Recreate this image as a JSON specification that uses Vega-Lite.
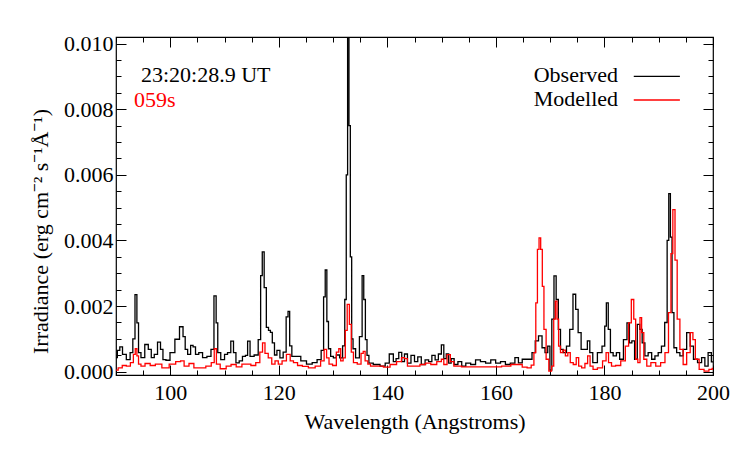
{
  "$schema": "https://vega.github.io/schema/vega-lite/v6.json",
  "width": 597,
  "height": 338,
  "autosize": "none",
  "padding": {"left": 116, "top": 37, "right": 34, "bottom": 74},
  "background": "white",
  "config": {
    "view": {"stroke": "black", "strokeWidth": 1.2},
    "font": "Times New Roman, Tinos, Liberation Serif, Noto Serif, DejaVu Serif, FreeSerif, serif",
    "text": {"font": "Times New Roman, Tinos, Liberation Serif, Noto Serif, DejaVu Serif, FreeSerif, serif"},
    "axis": {
      "domain": false, "grid": false, "tickColor": "black", "tickWidth": 1,
      "labelColor": "black", "labelFont": "Times New Roman, Tinos, Liberation Serif, Noto Serif, DejaVu Serif, FreeSerif, serif", "labelFontSize": 22,
      "titleFont": "Times New Roman, Tinos, Liberation Serif, Noto Serif, DejaVu Serif, FreeSerif, serif", "titleFontSize": 22, "titleFontWeight": "normal", "titleColor": "black",
      "labelFlush": false, "labelOverlap": false
    }
  },
  "datasets": {
    "obs": [
      {"w": 90.0, "v": 0.00043}, {"w": 90.5, "v": 0.00065}, {"w": 90.9, "v": 0.00076}, {"w": 91.5, "v": 0.00053},
      {"w": 92.3, "v": 0.00037}, {"w": 92.9, "v": 0.00058}, {"w": 93.3, "v": 0.00100}, {"w": 93.7, "v": 0.00235},
      {"w": 94.0, "v": 0.00149}, {"w": 94.3, "v": 0.00058}, {"w": 94.9, "v": 0.00043}, {"w": 95.7, "v": 0.00083},
      {"w": 96.2, "v": 0.00068}, {"w": 96.8, "v": 0.00043}, {"w": 97.3, "v": 0.00053}, {"w": 98.0, "v": 0.00090},
      {"w": 98.4, "v": 0.00068}, {"w": 98.9, "v": 0.00037}, {"w": 99.5, "v": 0.00035}, {"w": 100.4, "v": 0.00058},
      {"w": 101.3, "v": 0.00099}, {"w": 102.1, "v": 0.00137}, {"w": 102.6, "v": 0.00107}, {"w": 102.9, "v": 0.00068},
      {"w": 103.5, "v": 0.00053}, {"w": 104.0, "v": 0.00080}, {"w": 104.4, "v": 0.00076}, {"w": 104.9, "v": 0.00053},
      {"w": 105.6, "v": 0.00058}, {"w": 106.3, "v": 0.00043}, {"w": 107.2, "v": 0.00047}, {"w": 107.8, "v": 0.00068},
      {"w": 108.3, "v": 0.00231}, {"w": 108.6, "v": 0.00149}, {"w": 108.9, "v": 0.00058}, {"w": 109.7, "v": 0.00037},
      {"w": 110.3, "v": 0.00053}, {"w": 110.8, "v": 0.00058}, {"w": 111.5, "v": 0.00093}, {"w": 111.8, "v": 0.00058},
      {"w": 112.4, "v": 0.00027}, {"w": 113.0, "v": 0.00033}, {"w": 113.6, "v": 0.00047}, {"w": 114.1, "v": 0.00050},
      {"w": 114.4, "v": 0.00093}, {"w": 115.0, "v": 0.00047}, {"w": 115.9, "v": 0.00051}, {"w": 116.5, "v": 0.00098},
      {"w": 116.8, "v": 0.00293}, {"w": 117.1, "v": 0.00365}, {"w": 117.5, "v": 0.00256}, {"w": 117.9, "v": 0.00135},
      {"w": 118.3, "v": 0.00126}, {"w": 118.6, "v": 0.00120}, {"w": 119.0, "v": 0.00088}, {"w": 119.4, "v": 0.00051},
      {"w": 119.9, "v": 0.00065}, {"w": 120.5, "v": 0.00042}, {"w": 121.1, "v": 0.00060}, {"w": 121.6, "v": 0.00167},
      {"w": 121.8, "v": 0.00184}, {"w": 122.2, "v": 0.00079}, {"w": 122.6, "v": 0.00047}, {"w": 123.6, "v": 0.00047},
      {"w": 124.5, "v": 0.00033}, {"w": 125.7, "v": 0.00023}, {"w": 126.6, "v": 0.00028}, {"w": 127.5, "v": 0.00037},
      {"w": 128.1, "v": 0.00065}, {"w": 128.4, "v": 0.00228}, {"w": 128.7, "v": 0.00310}, {"w": 129.0, "v": 0.00153},
      {"w": 129.3, "v": 0.00070}, {"w": 129.8, "v": 0.00047}, {"w": 130.3, "v": 0.00042}, {"w": 130.9, "v": 0.00051},
      {"w": 131.5, "v": 0.00042}, {"w": 132.0, "v": 0.00079}, {"w": 132.3, "v": 0.00220}, {"w": 132.55, "v": 0.00600},
      {"w": 132.8, "v": 0.01040}, {"w": 133.05, "v": 0.00750}, {"w": 133.3, "v": 0.00350}, {"w": 133.55, "v": 0.00100},
      {"w": 133.8, "v": 0.00070}, {"w": 134.5, "v": 0.00042}, {"w": 135.2, "v": 0.00107}, {"w": 135.5, "v": 0.00293},
      {"w": 135.8, "v": 0.00220}, {"w": 136.1, "v": 0.00098}, {"w": 136.4, "v": 0.00050}, {"w": 136.8, "v": 0.00026},
      {"w": 138.0, "v": 0.00022}, {"w": 139.3, "v": 0.00017}, {"w": 139.9, "v": 0.00026}, {"w": 140.8, "v": 0.00054},
      {"w": 141.4, "v": 0.00031}, {"w": 141.8, "v": 0.00040}, {"w": 142.4, "v": 0.00059}, {"w": 142.9, "v": 0.00031},
      {"w": 143.4, "v": 0.00054}, {"w": 144.0, "v": 0.00026}, {"w": 144.7, "v": 0.00050}, {"w": 145.3, "v": 0.00031},
      {"w": 145.9, "v": 0.00045}, {"w": 146.6, "v": 0.00022}, {"w": 147.3, "v": 0.00036}, {"w": 147.9, "v": 0.00031},
      {"w": 148.5, "v": 0.00050}, {"w": 149.1, "v": 0.00036}, {"w": 149.7, "v": 0.00054}, {"w": 150.2, "v": 0.00082},
      {"w": 150.6, "v": 0.00040}, {"w": 151.1, "v": 0.00054}, {"w": 151.5, "v": 0.00026}, {"w": 152.0, "v": 0.00040},
      {"w": 152.6, "v": 0.00022}, {"w": 153.4, "v": 0.00031}, {"w": 154.0, "v": 0.00017}, {"w": 154.9, "v": 0.00026},
      {"w": 155.8, "v": 0.00022}, {"w": 156.7, "v": 0.00036}, {"w": 157.6, "v": 0.00031}, {"w": 158.6, "v": 0.00026},
      {"w": 159.5, "v": 0.00036}, {"w": 160.4, "v": 0.00026}, {"w": 161.3, "v": 0.00031}, {"w": 162.2, "v": 0.00022},
      {"w": 163.1, "v": 0.00026}, {"w": 163.9, "v": 0.00043}, {"w": 164.4, "v": 0.00027}, {"w": 165.3, "v": 0.00038},
      {"w": 166.3, "v": 0.00038}, {"w": 167.0, "v": 0.00058}, {"w": 167.5, "v": 0.00094}, {"w": 168.2, "v": 0.00109},
      {"w": 168.8, "v": 0.00073}, {"w": 169.3, "v": 0.00058}, {"w": 169.8, "v": 0.00078}, {"w": 170.1, "v": 0.00005},
      {"w": 170.5, "v": 0.00160}, {"w": 170.9, "v": 0.00292}, {"w": 171.3, "v": 0.00220}, {"w": 171.7, "v": 0.00129},
      {"w": 172.1, "v": 0.00068}, {"w": 172.7, "v": 0.00058}, {"w": 173.3, "v": 0.00078}, {"w": 173.9, "v": 0.00129},
      {"w": 174.5, "v": 0.00236}, {"w": 174.9, "v": 0.00190}, {"w": 175.4, "v": 0.00119}, {"w": 176.0, "v": 0.00068},
      {"w": 176.6, "v": 0.00068}, {"w": 177.1, "v": 0.00094}, {"w": 177.5, "v": 0.00058}, {"w": 178.2, "v": 0.00028},
      {"w": 179.2, "v": 0.00058}, {"w": 179.9, "v": 0.00078}, {"w": 180.2, "v": 0.00139}, {"w": 180.5, "v": 0.00210},
      {"w": 180.9, "v": 0.00129}, {"w": 181.3, "v": 0.00058}, {"w": 181.9, "v": 0.00048}, {"w": 182.5, "v": 0.00058},
      {"w": 183.1, "v": 0.00038}, {"w": 183.9, "v": 0.00098}, {"w": 184.4, "v": 0.00149}, {"w": 184.8, "v": 0.00088},
      {"w": 185.3, "v": 0.00094}, {"w": 185.8, "v": 0.00038}, {"w": 186.3, "v": 0.00144}, {"w": 186.7, "v": 0.00129},
      {"w": 187.2, "v": 0.00088}, {"w": 187.7, "v": 0.00048}, {"w": 188.4, "v": 0.00058}, {"w": 189.0, "v": 0.00038},
      {"w": 189.6, "v": 0.00048}, {"w": 190.2, "v": 0.00058}, {"w": 190.8, "v": 0.00078}, {"w": 191.4, "v": 0.00150},
      {"w": 191.7, "v": 0.00400}, {"w": 192.0, "v": 0.00543}, {"w": 192.3, "v": 0.00410}, {"w": 192.6, "v": 0.00180},
      {"w": 193.0, "v": 0.00073}, {"w": 193.6, "v": 0.00058}, {"w": 194.2, "v": 0.00048}, {"w": 194.8, "v": 0.00068},
      {"w": 195.5, "v": 0.00119}, {"w": 196.1, "v": 0.00078}, {"w": 196.7, "v": 0.00038}, {"w": 197.6, "v": 0.00028},
      {"w": 198.2, "v": 0.00043}, {"w": 198.8, "v": 0.00017}, {"w": 199.4, "v": 0.00058}, {"w": 200.0, "v": 0.00030}
    ],
    "mod": [
      {"w": 90.0, "v": 0.00005}, {"w": 90.8, "v": 0.00012}, {"w": 91.5, "v": 0.00019}, {"w": 92.3, "v": 0.00017},
      {"w": 93.0, "v": 0.00028}, {"w": 93.4, "v": 0.00053}, {"w": 93.7, "v": 0.00070}, {"w": 94.0, "v": 0.00048},
      {"w": 94.3, "v": 0.00023}, {"w": 94.9, "v": 0.00017}, {"w": 95.8, "v": 0.00025}, {"w": 96.8, "v": 0.00019},
      {"w": 97.7, "v": 0.00023}, {"w": 99.2, "v": 0.00012}, {"w": 100.4, "v": 0.00023}, {"w": 101.6, "v": 0.00031},
      {"w": 102.2, "v": 0.00033}, {"w": 102.9, "v": 0.00017}, {"w": 104.0, "v": 0.00025}, {"w": 104.7, "v": 0.00012},
      {"w": 105.9, "v": 0.00012}, {"w": 107.2, "v": 0.00017}, {"w": 107.9, "v": 0.00028}, {"w": 108.3, "v": 0.00070},
      {"w": 108.7, "v": 0.00023}, {"w": 109.7, "v": 0.00009}, {"w": 110.9, "v": 0.00017}, {"w": 111.5, "v": 0.00022},
      {"w": 112.8, "v": 0.00015}, {"w": 113.6, "v": 0.00023}, {"w": 114.4, "v": 0.00023}, {"w": 115.3, "v": 0.00019},
      {"w": 116.2, "v": 0.00028}, {"w": 116.8, "v": 0.00060}, {"w": 117.2, "v": 0.00088}, {"w": 117.7, "v": 0.00056},
      {"w": 118.4, "v": 0.00042}, {"w": 119.0, "v": 0.00023}, {"w": 119.6, "v": 0.00033}, {"w": 120.2, "v": 0.00023},
      {"w": 121.0, "v": 0.00033}, {"w": 121.8, "v": 0.00053}, {"w": 122.4, "v": 0.00033}, {"w": 123.0, "v": 0.00028},
      {"w": 123.9, "v": 0.00019}, {"w": 124.8, "v": 0.00016}, {"w": 126.1, "v": 0.00012}, {"w": 127.3, "v": 0.00017},
      {"w": 128.1, "v": 0.00033}, {"w": 128.6, "v": 0.00068}, {"w": 129.0, "v": 0.00042}, {"w": 129.5, "v": 0.00023},
      {"w": 130.3, "v": 0.00019}, {"w": 130.9, "v": 0.00060}, {"w": 131.2, "v": 0.00070}, {"w": 131.6, "v": 0.00033},
      {"w": 132.1, "v": 0.00042}, {"w": 132.4, "v": 0.00126}, {"w": 132.8, "v": 0.00205}, {"w": 133.2, "v": 0.00144},
      {"w": 133.5, "v": 0.00060}, {"w": 134.0, "v": 0.00028}, {"w": 134.9, "v": 0.00023}, {"w": 135.4, "v": 0.00056},
      {"w": 135.7, "v": 0.00062}, {"w": 136.1, "v": 0.00033}, {"w": 136.7, "v": 0.00023}, {"w": 137.1, "v": 0.00017},
      {"w": 138.65, "v": 0.00017}, {"w": 139.9, "v": 0.00014}, {"w": 141.1, "v": 0.00022}, {"w": 142.3, "v": 0.00031},
      {"w": 142.9, "v": 0.00043}, {"w": 143.4, "v": 0.00040}, {"w": 144.0, "v": 0.00017}, {"w": 145.4, "v": 0.00017},
      {"w": 146.6, "v": 0.00022}, {"w": 147.5, "v": 0.00026}, {"w": 148.5, "v": 0.00022}, {"w": 149.7, "v": 0.00031},
      {"w": 150.2, "v": 0.00038}, {"w": 150.6, "v": 0.00022}, {"w": 151.4, "v": 0.00052}, {"w": 151.8, "v": 0.00031},
      {"w": 152.7, "v": 0.00017}, {"w": 154.6, "v": 0.00015}, {"w": 156.5, "v": 0.00015}, {"w": 158.3, "v": 0.00015},
      {"w": 160.1, "v": 0.00015}, {"w": 162.0, "v": 0.00017}, {"w": 163.5, "v": 0.00022}, {"w": 164.4, "v": 0.00022},
      {"w": 165.3, "v": 0.00014}, {"w": 166.2, "v": 0.00012}, {"w": 166.8, "v": 0.00020}, {"w": 167.2, "v": 0.00058},
      {"w": 167.5, "v": 0.00210}, {"w": 167.8, "v": 0.00373}, {"w": 168.1, "v": 0.00408}, {"w": 168.4, "v": 0.00373},
      {"w": 168.7, "v": 0.00260}, {"w": 169.0, "v": 0.00129}, {"w": 169.5, "v": 0.00038}, {"w": 170.0, "v": 0.00002},
      {"w": 170.5, "v": 0.00017}, {"w": 170.8, "v": 0.00160}, {"w": 171.1, "v": 0.00215}, {"w": 171.4, "v": 0.00160},
      {"w": 171.7, "v": 0.00078}, {"w": 172.1, "v": 0.00058}, {"w": 172.6, "v": 0.00066}, {"w": 173.0, "v": 0.00048},
      {"w": 173.5, "v": 0.00058}, {"w": 173.9, "v": 0.00028}, {"w": 174.6, "v": 0.00022}, {"w": 175.0, "v": 0.00043},
      {"w": 175.5, "v": 0.00017}, {"w": 176.1, "v": 0.00012}, {"w": 176.7, "v": 0.00025}, {"w": 177.1, "v": 0.00048},
      {"w": 177.6, "v": 0.00017}, {"w": 178.2, "v": 0.00007}, {"w": 179.2, "v": 0.00012}, {"w": 180.1, "v": 0.00033},
      {"w": 180.5, "v": 0.00058}, {"w": 181.0, "v": 0.00028}, {"w": 181.6, "v": 0.00017}, {"w": 182.5, "v": 0.00019},
      {"w": 183.5, "v": 0.00033}, {"w": 184.2, "v": 0.00078}, {"w": 184.7, "v": 0.00149}, {"w": 185.2, "v": 0.00220},
      {"w": 185.6, "v": 0.00160}, {"w": 185.9, "v": 0.00038}, {"w": 186.4, "v": 0.00028}, {"w": 186.7, "v": 0.00165},
      {"w": 187.0, "v": 0.00119}, {"w": 187.5, "v": 0.00038}, {"w": 188.1, "v": 0.00017}, {"w": 189.0, "v": 0.00028},
      {"w": 189.9, "v": 0.00017}, {"w": 190.8, "v": 0.00028}, {"w": 191.5, "v": 0.00058}, {"w": 192.1, "v": 0.00180},
      {"w": 192.4, "v": 0.00360}, {"w": 192.8, "v": 0.00494}, {"w": 193.2, "v": 0.00340}, {"w": 193.6, "v": 0.00160},
      {"w": 194.2, "v": 0.00068}, {"w": 194.8, "v": 0.00022}, {"w": 195.5, "v": 0.00058}, {"w": 196.1, "v": 0.00119},
      {"w": 196.5, "v": 0.00098}, {"w": 197.0, "v": 0.00038}, {"w": 197.9, "v": 0.00007}, {"w": 198.8, "v": 0.00002},
      {"w": 199.7, "v": 0.00007}, {"w": 200.0, "v": 0.00010}
    ]
  },
  "resolve": {"axis": {"x": "independent", "y": "independent"}},
  "layer": [
    {
      "data": {"name": "obs"},
      "mark": {"type": "line", "color": "black", "strokeWidth": 1.3, "interpolate": "step", "clip": true},
      "encoding": {
        "x": {"field": "w", "type": "quantitative",
              "scale": {"domain": [90, 200], "nice": false, "zero": false},
              "axis": {"orient": "bottom", "values": [100, 120, 140, 160, 180, 200], "format": "d",
                       "tickSize": -10, "labelPadding": 17, "title": "Wavelength (Angstroms)",
                       "titleX": 298.5, "titleY": 46, "titleBaseline": "middle", "titleAnchor": null}},
        "y": {"field": "v", "type": "quantitative",
              "scale": {"domain": [-0.0001, 0.0102], "nice": false, "zero": false},
              "axis": {"orient": "left", "values": [0, 0.002, 0.004, 0.006, 0.008, 0.01], "format": ".3f",
                       "tickSize": -10, "labelPadding": 13, "title": "Irradiance (erg cm⁻² s⁻¹Å⁻¹)",
                       "titleX": -76, "titleY": 194, "titleBaseline": "middle", "titleAngle": 270}}
      }
    },
    {
      "data": {"name": "mod"},
      "mark": {"type": "line", "color": "#ff0000", "strokeWidth": 1.3, "interpolate": "step", "clip": true},
      "encoding": {
        "x": {"field": "w", "type": "quantitative",
              "scale": {"domain": [90, 200], "nice": false, "zero": false},
              "axis": {"orient": "bottom", "values": [90, 95, 100, 105, 110, 115, 120, 125, 130, 135, 140, 145, 150, 155, 160, 165, 170, 175, 180, 185, 190, 195, 200],
                       "tickSize": -5, "labels": false, "title": null}},
        "y": {"field": "v", "type": "quantitative",
              "scale": {"domain": [-0.0001, 0.0102], "nice": false, "zero": false},
              "axis": {"orient": "left", "values": [0, 0.0005, 0.001, 0.0015, 0.002, 0.0025, 0.003, 0.0035, 0.004, 0.0045, 0.005, 0.0055, 0.006, 0.0065, 0.007, 0.0075, 0.008, 0.0085, 0.009, 0.0095, 0.01],
                       "tickSize": -5, "labels": false, "title": null}}
      }
    },
    {
      "data": {"values": [{}]},
      "mark": {"type": "text", "align": "left", "baseline": "middle", "fontSize": 22, "color": "black"},
      "encoding": {
        "x": {"datum": 94.6, "type": "quantitative",
              "scale": {"domain": [90, 200], "nice": false, "zero": false},
              "axis": {"orient": "top", "values": [100, 120, 140, 160, 180, 200], "tickSize": -10, "labels": false, "title": null}},
        "y": {"datum": 0.00905, "type": "quantitative",
              "scale": {"domain": [-0.0001, 0.0102], "nice": false, "zero": false},
              "axis": {"orient": "right", "values": [0, 0.002, 0.004, 0.006, 0.008, 0.01], "tickSize": -10, "labels": false, "title": null}},
        "text": {"value": "23:20:28.9 UT"}
      }
    },
    {
      "data": {"values": [{}]},
      "mark": {"type": "text", "align": "left", "baseline": "middle", "fontSize": 22, "color": "#ff0000"},
      "encoding": {
        "x": {"datum": 93.3, "type": "quantitative",
              "scale": {"domain": [90, 200], "nice": false, "zero": false},
              "axis": {"orient": "top", "values": [90, 95, 100, 105, 110, 115, 120, 125, 130, 135, 140, 145, 150, 155, 160, 165, 170, 175, 180, 185, 190, 195, 200],
                       "tickSize": -5, "labels": false, "title": null}},
        "y": {"datum": 0.00828, "type": "quantitative",
              "scale": {"domain": [-0.0001, 0.0102], "nice": false, "zero": false},
              "axis": {"orient": "right", "values": [0, 0.0005, 0.001, 0.0015, 0.002, 0.0025, 0.003, 0.0035, 0.004, 0.0045, 0.005, 0.0055, 0.006, 0.0065, 0.007, 0.0075, 0.008, 0.0085, 0.009, 0.0095, 0.01],
                       "tickSize": -5, "labels": false, "title": null}},
        "text": {"value": "059s"}
      }
    },
    {
      "data": {"values": [{}]},
      "mark": {"type": "text", "align": "right", "baseline": "middle", "fontSize": 22, "color": "black"},
      "encoding": {
        "x": {"datum": 182.5, "type": "quantitative", "scale": {"domain": [90, 200], "nice": false, "zero": false}, "axis": null},
        "y": {"datum": 0.00905, "type": "quantitative", "scale": {"domain": [-0.0001, 0.0102], "nice": false, "zero": false}, "axis": null},
        "text": {"value": "Observed"}
      }
    },
    {
      "data": {"values": [{}]},
      "mark": {"type": "text", "align": "right", "baseline": "middle", "fontSize": 22, "color": "black"},
      "encoding": {
        "x": {"datum": 182.5, "type": "quantitative", "scale": {"domain": [90, 200], "nice": false, "zero": false}, "axis": null},
        "y": {"datum": 0.00832, "type": "quantitative", "scale": {"domain": [-0.0001, 0.0102], "nice": false, "zero": false}, "axis": null},
        "text": {"value": "Modelled"}
      }
    },
    {
      "data": {"values": [{}]},
      "mark": {"type": "rule", "color": "black", "strokeWidth": 1.4},
      "encoding": {
        "x": {"datum": 185.4, "type": "quantitative", "scale": {"domain": [90, 200], "nice": false, "zero": false}, "axis": null},
        "x2": {"datum": 193.9},
        "y": {"datum": 0.00900, "type": "quantitative", "scale": {"domain": [-0.0001, 0.0102], "nice": false, "zero": false}, "axis": null}
      }
    },
    {
      "data": {"values": [{}]},
      "mark": {"type": "rule", "color": "#ff0000", "strokeWidth": 1.4},
      "encoding": {
        "x": {"datum": 185.4, "type": "quantitative", "scale": {"domain": [90, 200], "nice": false, "zero": false}, "axis": null},
        "x2": {"datum": 193.9},
        "y": {"datum": 0.00828, "type": "quantitative", "scale": {"domain": [-0.0001, 0.0102], "nice": false, "zero": false}, "axis": null}
      }
    }
  ]
}
